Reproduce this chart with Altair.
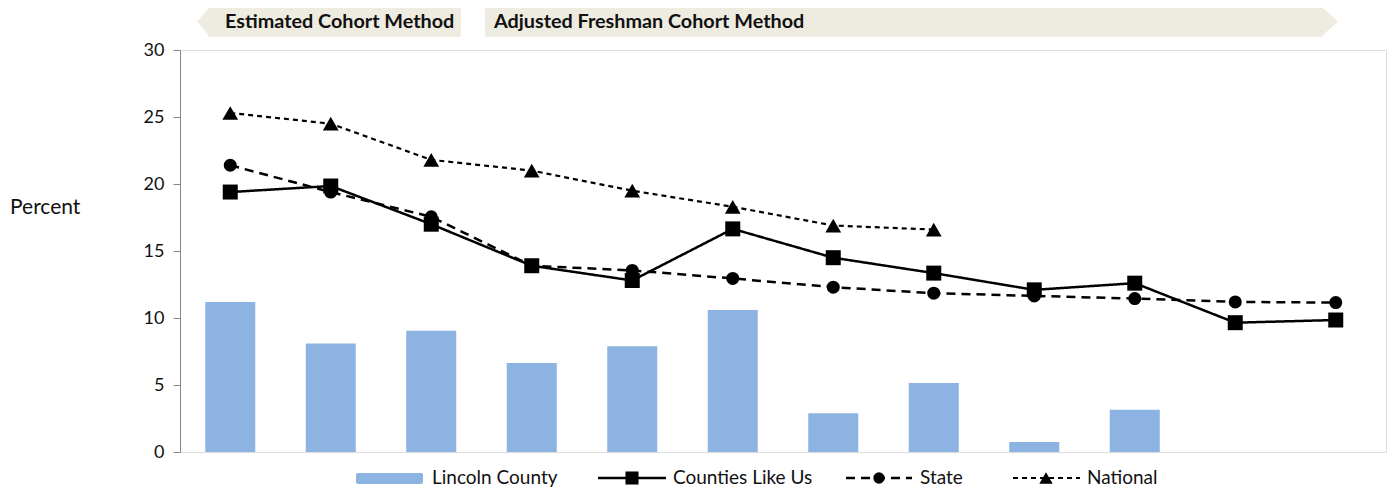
import altair as alt
import pandas as pd

# ---- data ----
categories = list(range(1, 13))
lincoln_county = [11.2, 8.1, 9.05, 6.65, 7.9, 10.6, 2.9, 5.15, 0.75, 3.15]
counties_like_us = [19.4, 19.85, 17.0, 13.9, 12.8, 16.65, 14.5, 13.35, 12.1, 12.6, 9.65, 9.85]
state = [21.4, 19.4, 17.55, 13.9, 13.55, 12.95, 12.3, 11.85, 11.65, 11.45, 11.2, 11.15]
national = [25.3, 24.5, 21.8, 21.0, 19.5, 18.3, 16.9, 16.6]
y_ticks = [0, 5, 10, 15, 20, 25, 30]
banner_labels = ["Estimated Cohort Method", "Adjusted Freshman Cohort Method"]
legend_labels = ["Lincoln County", "Counties Like Us", "State", "National"]

FONT = "Lato"
BAR_COLOR = "#8DB3E2"
BANNER = "#EEEBE0"

df_bar = pd.DataFrame({"idx": categories[:len(lincoln_county)], "v": lincoln_county})
df_cl = pd.DataFrame({"idx": categories[:len(counties_like_us)], "v": counties_like_us})
df_st = pd.DataFrame({"idx": categories[:len(state)], "v": state})
df_na = pd.DataFrame({"idx": categories[:len(national)], "v": national})

xs = alt.Scale(domain=[0.5, 12.5], nice=False, zero=False, padding=0)
ys = alt.Scale(domain=[0, 30], nice=False, padding=0)
X = alt.X("idx:Q", scale=xs, axis=None)
Y = alt.Y("v:Q", scale=ys, title=None,
          axis=alt.Axis(values=y_ticks, grid=False, domainColor="#868686",
                        tickColor="#868686", tickSize=7, labelFontSize=18,
                        labelFont=FONT, labelColor="#111", labelPadding=9,
                        domainWidth=1))

bars = alt.Chart(df_bar).mark_bar(size=50, color=BAR_COLOR).encode(x=X, y=Y)

def series(df, dash, width, shape, size):
    line = alt.Chart(df).mark_line(color="black", strokeWidth=width,
                                   strokeDash=dash).encode(x=X, y=Y)
    pts = alt.Chart(df).mark_point(shape=shape, filled=True, size=size,
                                   color="black", opacity=1).encode(x=X, y=Y)
    return line, pts

st_l, st_p = series(df_st, [9, 6], 2.5, "circle", 170)
cl_l, cl_p = series(df_cl, [1, 0], 2.5, "square", 225)
na_l, na_p = series(df_na, [5, 4], 2.2, "triangle-up", 250)

one = alt.Data(values=[{"a": 1}])

def vrule(x1, x2, y, dash, width):
    return alt.Chart(one).mark_rule(color="black", strokeWidth=width,
                                    strokeDash=dash).encode(
        x=alt.value(x1), x2=alt.value(x2), y=alt.value(y))

def vpoint(x, y, shape, size, color="black"):
    return alt.Chart(one).mark_point(shape=shape, filled=True, size=size,
                                     color=color, opacity=1).encode(
        x=alt.value(x), y=alt.value(y))

def vtext(x, y, txt, size=19, bold=False, align="left"):
    return alt.Chart(one).mark_text(text=txt, font=FONT, fontSize=size,
                                    fontWeight="bold" if bold else "normal",
                                    align=align, baseline="middle",
                                    color="#111").encode(
        x=alt.value(x), y=alt.value(y))

def vrect(x1, x2, y1, y2, color):
    return alt.Chart(one).mark_rect(color=color, cornerRadius=2).encode(
        x=alt.value(x1), x2=alt.value(x2), y=alt.value(y1), y2=alt.value(y2))

# banners (above plot)
b_top, b_bot = -44, -13
b_mid = (b_top + b_bot) / 2
tri_size = (b_bot - b_top) ** 2
banners = [
    vrect(28, 281, b_top, b_bot, BANNER),
    alt.Chart(one).mark_point(shape="M 0.15 -1 L -0.71 0 L 0.15 1 Z", filled=True,
                              size=tri_size, color=BANNER, opacity=1).encode(
        x=alt.value(28), y=alt.value(b_mid)),
    vrect(305, 1143, b_top, b_bot, BANNER),
    alt.Chart(one).mark_point(shape="M -0.15 -1 L 0.97 0 L -0.15 1 Z", filled=True,
                              size=tri_size, color=BANNER, opacity=1).encode(
        x=alt.value(1143), y=alt.value(b_mid)),
    vtext(45, b_mid + 0.5, banner_labels[0], size=19.8, bold=True),
    vtext(314, b_mid + 0.5, banner_labels[1], size=19.8, bold=True),
]

# y title
ytitle = vtext(-170, 158, "Percent", size=21)

# legend
ly = 428
legend = [
    vrect(176, 243, 423, 434, BAR_COLOR),
    vtext(252, ly, legend_labels[0]),
    vrule(418, 486, ly, [1, 0], 2.5),
    vpoint(452, ly, "square", 170),
    vtext(493, ly, legend_labels[1]),
    vrule(666, 732, ly, [9, 6], 2.5),
    vpoint(699, ly, "circle", 130),
    vtext(740, ly, legend_labels[2]),
    vrule(833, 900, ly, [5, 4], 2.2),
    vpoint(866, ly, "triangle-up", 180),
    vtext(907, ly, legend_labels[3]),
]

chart = alt.layer(
    bars, st_l, cl_l, na_l, st_p, cl_p, na_p, *banners, ytitle, *legend
).properties(
    width=1206, height=402,
    autosize=alt.AutoSizeParams(type="none"),
    padding={"left": 172, "top": 42, "right": 2, "bottom": 37},
).configure_view(stroke=None).configure(font=FONT)

chart.save("out.html", embed_options={"renderer": "svg", "actions": False})
